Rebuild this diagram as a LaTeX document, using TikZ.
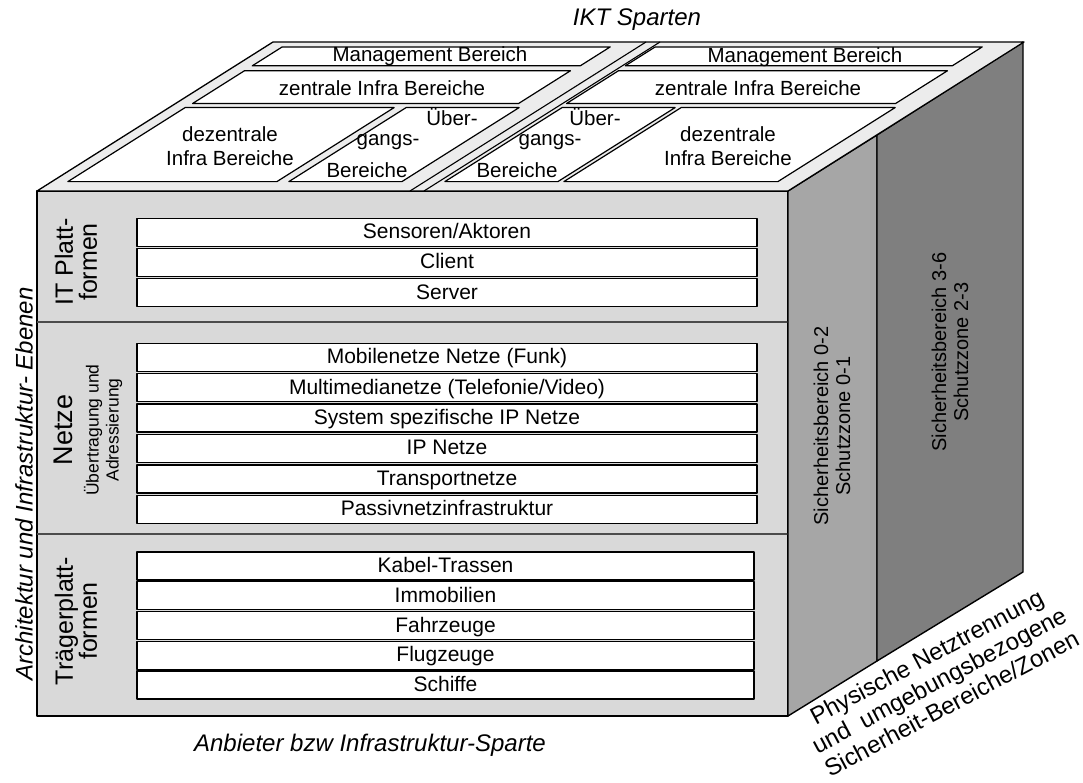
\documentclass[tikz,border=0pt]{standalone}
\usepackage{fontspec}
\setmainfont{Liberation Sans}
\definecolor{frontgray}{RGB}{217,217,217}
\definecolor{sidegray}{RGB}{166,166,166}
\definecolor{backgray}{RGB}{127,127,127}
\definecolor{topgray}{RGB}{236,236,236}
\newcommand{\myfs}[1]{\fontsize{#1}{#1}\selectfont}
\begin{document}
\begin{tikzpicture}[x=1pt,y=-1pt,line join=round,
  rowbox/.style={draw=black,line width=1.4pt,fill=white,minimum width=620pt,minimum height=28pt,inner sep=0pt,text height=15pt,text depth=2pt,font=\myfs{21}},
  toptext/.style={inner sep=0pt,font=\myfs{20.5}},
  topbox/.style={draw=black,line width=1.2pt,fill=white},
  lefttext/.style={rotate=90,align=center,inner sep=0pt,font=\fontsize{25}{24}\selectfont},
  sidetext/.style={rotate=90,align=center,inner sep=0pt,font=\fontsize{20}{22}\selectfont},
  axistext/.style={inner sep=0pt,font=\itshape\myfs{24}}]
\useasboundingbox (0,0) rectangle (1083,783);

% front face
\draw[line width=1.6pt,fill=frontgray] (37,191) rectangle (788,716);
\draw[line width=1.2pt,black!70] (37,322) -- (788,322);
\draw[line width=1.2pt,black!70] (37,534) -- (788,534);

% right faces
\draw[line width=1.4pt,fill=sidegray] (788,191) -- (877,135) -- (877,661) -- (788,716) -- cycle;
\draw[line width=1.4pt,fill=backgray] (877,135) -- (1023,42) -- (1023,572) -- (877,661) -- cycle;

% top face
\begin{scope}[shift={(37,191)},x={(1pt,0pt)},y={(236pt,149pt)}]
  \draw[line width=1.3pt,fill=topgray] (0,0) -- (751,0) -- (751,1) -- (0,1) -- cycle;
  \draw[line width=1.1pt] (373,0) -- (373,1);
  \draw[line width=1.1pt] (387,0) -- (387,1);
  % left plate
  \draw[topbox] (17,0.84) -- (345,0.84) -- (345,0.967) -- (17,0.967) -- cycle;
  \draw[topbox] (17,0.587) -- (343,0.587) -- (343,0.807) -- (17,0.807) -- cycle;
  \draw[topbox] (16,0.063) -- (225,0.063) -- (225,0.56) -- (16,0.56) -- cycle;
  \draw[topbox] (237,0.063) -- (350,0.063) -- (350,0.56) -- (237,0.56) -- cycle;
  % right plate
  \draw[topbox] (390,0.84) -- (717,0.84) -- (717,0.967) -- (390,0.967) -- cycle;
  \draw[topbox] (391,0.587) -- (720,0.587) -- (720,0.807) -- (391,0.807) -- cycle;
  \draw[topbox] (393,0.063) -- (506,0.063) -- (506,0.56) -- (393,0.56) -- cycle;
  \draw[topbox] (512,0.063) -- (726,0.063) -- (726,0.56) -- (512,0.56) -- cycle;
\end{scope}

% top face texts
\node[toptext] (mgL) at (430,56) {Management Bereich};
\node[toptext] (zeL) at (382,88) {zentrale Infra Bereiche};
\node[toptext,align=center,font=\fontsize{20.5}{24}\selectfont] (deL) at (230,146) {dezentrale\\Infra Bereiche};
\node[toptext] (ubL1) at (452,117) {Über-};
\node[toptext] (ubL2) at (388,142) {gangs-};
\node[toptext] (ubL3) at (367,170) {Bereiche};
\node[toptext] (mgR) at (805,57) {Management Bereich};
\node[toptext] (zeR) at (758,88) {zentrale Infra Bereiche};
\node[toptext,align=center,font=\fontsize{20.5}{24}\selectfont] (deR) at (728,146) {dezentrale\\Infra Bereiche};
\node[toptext] (ubR1) at (595,117) {Über-};
\node[toptext] (ubR2) at (550,142) {gangs-};
\node[toptext] (ubR3) at (517,170) {Bereiche};

% IT Plattformen rows
\node[rowbox] (r1) at (447,232.5) {Sensoren/Aktoren};
\node[rowbox] (r2) at (447,262.5) {Client};
\node[rowbox] (r3) at (447,292.5) {Server};
% Netze rows
\node[rowbox] (n1) at (447,357.2) {Mobilenetze Netze (Funk)};
\node[rowbox] (n2) at (447,387.6) {Multimedianetze (Telefonie/Video)};
\node[rowbox] (n3) at (447,418.0) {System spezifische IP Netze};
\node[rowbox] (n4) at (447,448.4) {IP Netze};
\node[rowbox] (n5) at (447,478.8) {Transportnetze};
\node[rowbox] (n6) at (447,509.2) {Passivnetzinfrastruktur};
% Traegerplattformen rows
\node[rowbox,minimum width=617pt] (t1) at (445.5,565.9) {Kabel-Trassen};
\node[rowbox,minimum width=617pt] (t2) at (445.5,595.7) {Immobilien};
\node[rowbox,minimum width=617pt] (t3) at (445.5,625.5) {Fahrzeuge};
\node[rowbox,minimum width=617pt] (t4) at (445.5,655.3) {Flugzeuge};
\node[rowbox,minimum width=617pt] (t5) at (445.5,685.1) {Schiffe};

% left labels
\node[lefttext] (lIT) at (76,262) {IT Platt-\\formen};
\node[lefttext,font=\fontsize{27}{28}\selectfont] (lNetze) at (63,430) {Netze};
\node[lefttext,font=\fontsize{17.5}{20}\selectfont] (lNetzeSub) at (103,430) {Übertragung und\\Adressierung};
\node[lefttext] (lTr) at (76,621) {Trägerplatt-\\formen};

% side texts
\node[sidetext] (s1) at (832,426) {Sicherheitsbereich 0-2\\Schutzzone 0-1};
\node[sidetext] (s2) at (950,352) {Sicherheitsbereich 3-6\\Schutzzone 2-3};

% axis labels
\node[axistext] (ikt) at (637,20) {IKT Sparten};
\node[axistext,rotate=90] (arch) at (24,484) {Architektur und Infrastruktur- Ebenen};
\node[axistext] (anb) at (370,745) {Anbieter bzw Infrastruktur-Sparte};
\node[inner sep=0pt,rotate=28,align=center,font=\fontsize{24}{26.5}\selectfont] (phys) at (939,680) {Physische Netztrennung\\und\ \ umgebungsbezogene\\Sicherheit-Bereiche/Zonen};
\end{tikzpicture}
\end{document}
